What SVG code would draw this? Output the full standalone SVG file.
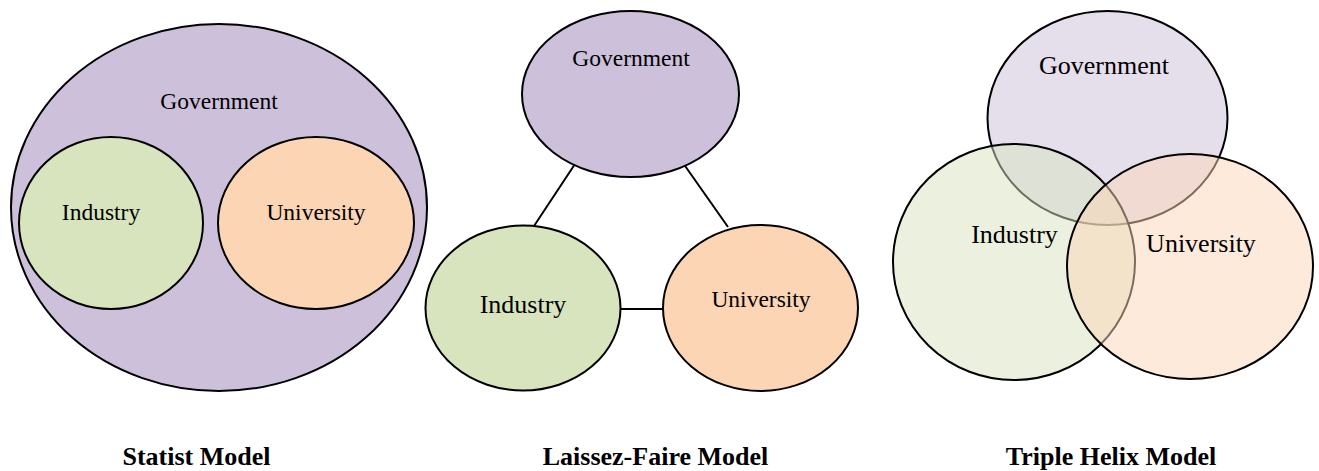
<svg xmlns="http://www.w3.org/2000/svg" width="1319" height="471" viewBox="0 0 1319 471">
<style>
.e{stroke:#000;stroke-width:2}
.g{fill:#ccc0da}.i{fill:#d7e4bd}.u{fill:#fcd5b5}
.tg{fill:#ccc0da;fill-opacity:0.5}.ti{fill:#d7e4bd;fill-opacity:0.5}.tu{fill:#fcd5b5;fill-opacity:0.5}
text{font-family:"Liberation Serif","Times New Roman",serif;fill:#000;text-anchor:middle}
.s{font-size:23.5px}.m{font-size:26px}
.t{font-size:26px;font-weight:bold}
.c{stroke:#000;stroke-width:2;fill:none}
</style>
<rect width="1319" height="471" fill="#fff"/>
<g id="statist">
<g id="statist-government"><ellipse class="e g" cx="219" cy="207.5" rx="208" ry="183.5"/><text class="s" x="219" y="109">Government</text></g>
<g id="statist-industry"><ellipse class="e i" cx="111" cy="223" rx="92" ry="86"/><text class="s" x="101" y="220">Industry</text></g>
<g id="statist-university"><ellipse class="e u" cx="316" cy="223" rx="98" ry="86"/><text class="s" x="316" y="220">University</text></g>
<text class="t" x="196.5" y="465">Statist Model</text>
</g>
<g id="connectors">
<line class="c" x1="575" y1="164" x2="534" y2="226"/>
<line class="c" x1="683" y1="163" x2="728" y2="227"/>
<line class="c" x1="621" y1="309" x2="663" y2="309"/>
</g>
<g id="laissez">
<g id="lf-government"><ellipse class="e g" cx="630.5" cy="94" rx="108.5" ry="83"/><text class="s" x="631" y="66">Government</text></g>
<g id="lf-industry"><ellipse class="e i" cx="523" cy="308" rx="97.5" ry="82.5"/><text class="m" x="523" y="313">Industry</text></g>
<g id="lf-university"><ellipse class="e u" cx="760.5" cy="308" rx="97.5" ry="83"/><text class="s" x="761" y="307">University</text></g>
<text class="t" x="655.5" y="465">Laissez-Faire Model</text>
</g>
<g id="triple">
<g id="th-government"><ellipse class="e tg" cx="1107.5" cy="118" rx="120" ry="107" stroke-opacity="1"/></g>
<g id="th-industry"><ellipse class="e ti" cx="1014" cy="262" rx="121" ry="118"/></g>
<g id="th-university"><ellipse class="e tu" cx="1190" cy="266.5" rx="123" ry="112.5"/></g>
<text class="m" x="1104" y="74">Government</text>
<text class="m" x="1014.5" y="243">Industry</text>
<text class="m" x="1201" y="252">University</text>
<text class="t" x="1111" y="465">Triple Helix Model</text>
</g>
</svg>
